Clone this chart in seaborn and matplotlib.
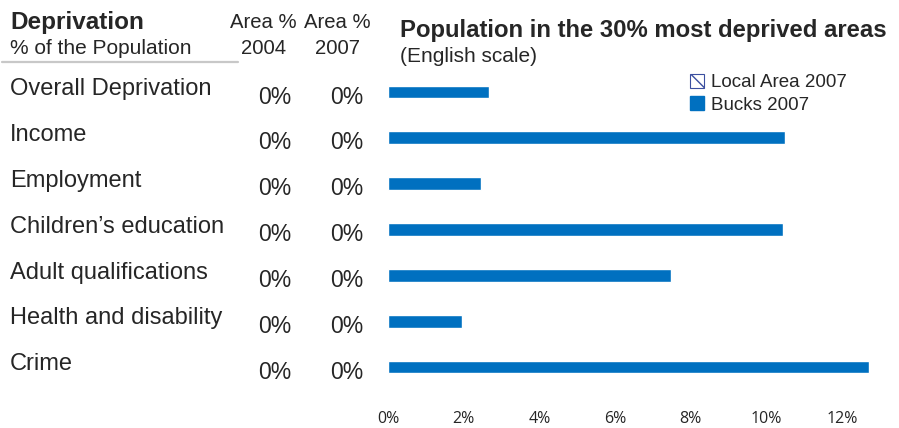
import pandas as pd
import matplotlib.pyplot as plt
import matplotlib.transforms as mtransforms
from matplotlib.patches import Patch
import seaborn as sns

# deprivation domains and share of population in the 30% most deprived areas
categories = ["Overall Deprivation", "Income", "Employment", "Children\u2019s education",
              "Adult qualifications", "Health and disability", "Crime"]
area_2004 = [0, 0, 0, 0, 0, 0, 0]
area_2007 = [0, 0, 0, 0, 0, 0, 0]
local_2007 = [0, 0, 0, 0, 0, 0, 0]
bucks_2007 = [2.67, 10.49, 2.46, 10.44, 7.48, 1.96, 12.71]
xticks = [0, 2, 4, 6, 8, 10, 12]

series = ["Local Area 2007", "Bucks 2007"]
df = pd.DataFrame({
    "category": categories * 2,
    "value": local_2007 + bucks_2007,
    "series": [series[0]] * len(categories) + [series[1]] * len(categories),
})

sns.set_style("white")
plt.rcParams['font.family'] = ['Liberation Sans', 'DejaVu Sans']

blue = "#0070C0"
fig = plt.figure(figsize=(8.99, 4.28), dpi=100)
ax = fig.add_axes([388 / 899, 1 - 383.5 / 428, (880 - 388) / 899, (383.5 - 62.7) / 428])

sns.barplot(data=df, y="category", x="value", hue="series", hue_order=series,
            palette=["white", blue], orient="h", width=0.56, dodge=True,
            saturation=1, legend=False, ax=ax)
for p in ax.patches[:len(categories)]:
    p.set_linewidth(0)

ax.set_xlim(0, 13)
ax.set_ylim(len(categories) - 0.5, -0.5)
ax.set_xticks(xticks)
ax.set_xticklabels([f"{t}%" for t in xticks], fontfamily="Open Sans", fontsize=11.5)
ax.tick_params(axis="x", length=0, pad=20)
ax.set_yticks([])
ax.set_xlabel("")
ax.set_ylabel("")
for s in ax.spines.values():
    s.set_visible(False)

# left hand table: names plus area values
trans = mtransforms.blended_transform_factory(fig.transFigure, ax.transData)
for i, name in enumerate(categories):
    ax.text(10 / 899, i + 0.08, name, transform=trans, fontsize=17, va="center", ha="left")
    ax.text(275 / 899, i + 0.25, f"{area_2004[i]}%", transform=trans, fontsize=16.5,
            va="center", ha="center")
    ax.text(347 / 899, i + 0.25, f"{area_2007[i]}%", transform=trans, fontsize=16.5,
            va="center", ha="center")

# headers
fig.text(10 / 899, 1 - 22 / 428, "Deprivation", fontsize=17.5, fontweight="bold", va="center")
fig.text(10 / 899, 1 - 49 / 428, "% of the Population", fontsize=15, va="center")
fig.text(263 / 899, 1 - 23 / 428, "Area %", fontsize=14.6, va="center", ha="center")
fig.text(264 / 899, 1 - 48 / 428, "2004", fontsize=14.6, va="center", ha="center")
fig.text(337 / 899, 1 - 23 / 428, "Area %", fontsize=14.6, va="center", ha="center")
fig.text(337 / 899, 1 - 48 / 428, "2007", fontsize=14.6, va="center", ha="center")
fig.add_artist(plt.Line2D([2 / 899, 238 / 899], [1 - 62 / 428, 1 - 62 / 428],
                          color="#c8c8c8", lw=1.6))
fig.text(400 / 899, 1 - 31 / 428, "Population in the 30% most deprived areas",
         fontsize=17.2, fontweight="bold", va="center")
fig.text(400 / 899, 1 - 56 / 428, "(English scale)", fontsize=15, va="center")

handles = [Patch(facecolor="white", edgecolor="#3b4fa0", hatch="\\\\", lw=0.8, label=series[0]),
           Patch(facecolor=blue, edgecolor=blue, label=series[1])]
ax.legend(handles=handles, frameon=False, loc="upper left", bbox_to_anchor=(0.598, 0.988),
          fontsize=13.5, handlelength=0.75, handleheight=0.75, handletextpad=0.4,
          labelspacing=0.25, borderaxespad=0)

fig.savefig("out.png", dpi=100)
